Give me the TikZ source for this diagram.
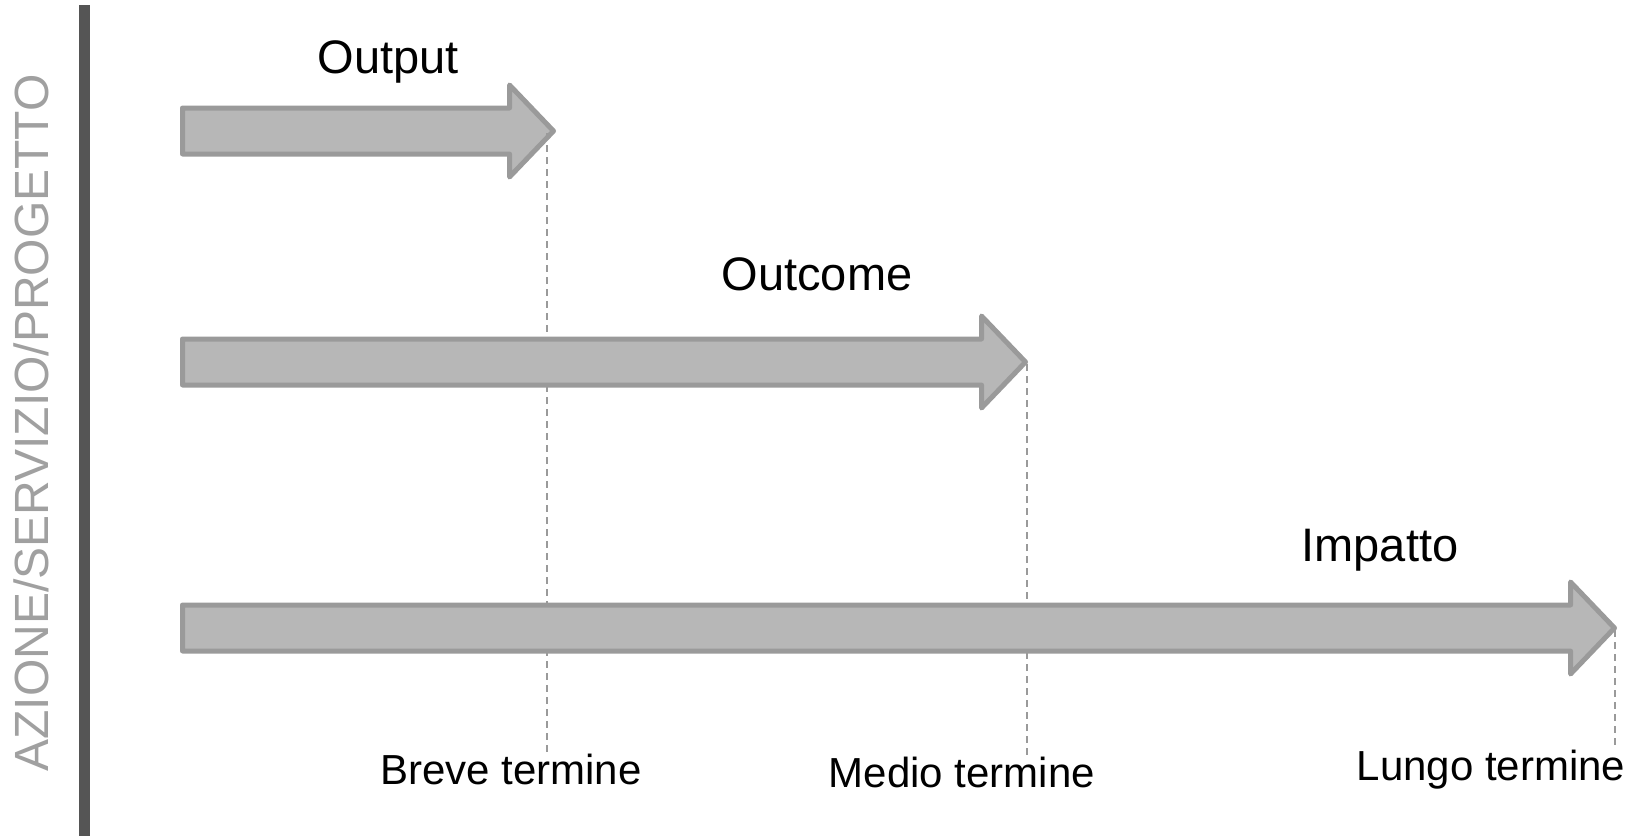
\documentclass[tikz,border=0pt]{standalone}
\usepackage{fontspec}
\setmainfont{Liberation Sans}
\usetikzlibrary{positioning}

\definecolor{barfill}{HTML}{B7B7B7}
\definecolor{barline}{HTML}{9A9A9A}
\definecolor{axisgray}{HTML}{555555}
\definecolor{sidegray}{HTML}{A0A0A0}

\tikzset{
    bigarrow/.style={fill=barfill, draw=barline, line width=5pt, line join=round},
    tick/.style={draw=barline, line width=2pt, dash pattern=on 7pt off 5pt},
    phase/.style={anchor=base, font=\fontsize{47}{56}\selectfont},
    horizon/.style={anchor=base, font=\fontsize{42}{50}\selectfont}
}

\begin{document}
\begin{tikzpicture}[x=1pt, y=-1pt]
    \useasboundingbox (0, 0) rectangle (1644, 836);

    \coordinate (bartop) at (84.5, 5);
    \coordinate (barbot) at (84.5, 836);
    \draw[axisgray, line width=11pt] (bartop) -- (barbot);
    \draw (48.5, 423) node[anchor=base, rotate=90, text=sidegray, font=\fontsize{48}{57}\selectfont] (side) {AZIONE/SERVIZIO/PROGETTO};

    \foreach \name/\yc/\tipx/\dashx/\foot in {output/131/556/547/754, outcome/362/1028/1027/756, impatto/628/1617/1615/748}{
        \draw[bigarrow] (182.5, \yc-23) -- (\tipx-46.5, \yc-23) -- (\tipx-46.5, \yc-46)
            -- (\tipx-2.5, \yc) -- (\tipx-46.5, \yc+46) -- (\tipx-46.5, \yc+23)
            -- (182.5, \yc+23) -- cycle;
        \coordinate (\name-tick) at (\dashx, \yc+2);
        \coordinate (\name-foot) at (\dashx, \foot);
        \draw[tick] (\name-tick) -- (\name-foot);
    }

    \draw (388, 73) node[phase] (outputlabel) {Output};
    \draw (817, 290.5) node[phase] (outcomelabel) {Outcome};
    \draw (1380, 561.5) node[phase] (impattolabel) {Impatto};

    \draw (511, 784.5) node[horizon] (breve) {Breve termine};
    \draw (962, 787) node[horizon] (medio) {Medio termine};
    \draw (1491, 780) node[horizon] (lungo) {Lungo termine};

\end{tikzpicture}
\end{document}
